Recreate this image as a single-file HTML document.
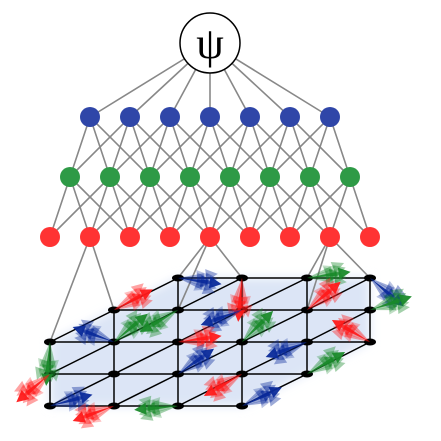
<!DOCTYPE html>
<html><head><meta charset="utf-8"><style>
html,body{margin:0;padding:0;background:#fff;width:441px;height:441px;overflow:hidden}
svg{display:block}
</style></head><body>
<svg id="fig" width="441" height="441" viewBox="0 0 441 441" xmlns="http://www.w3.org/2000/svg">
<defs>
<filter id="blur" x="-10%" y="-10%" width="120%" height="120%"><feGaussianBlur stdDeviation="5"/></filter>
</defs>
<polygon points="178,278 370,278 370,342 307,374 243,406 50,406 50,342 114,310" fill="#dce5f6" filter="url(#blur)"/>
<g id="edges"></g>
<g id="lattice"></g>
<g id="arrows"></g>
<g id="nodes"></g>
<circle cx="210" cy="43" r="30" fill="#fff" stroke="#000" stroke-width="1.5"/>
<text x="210" y="58" text-anchor="middle" font-family="Liberation Serif, serif" font-size="44">ψ</text>
</svg>
<script>
const blueX=[90,130,170,210,250,290,330];
const greenX=[70,110,150,190,230,270,310,350];
const redX=[50,90,130,170,210,250,290,330,370];
const colX=[50,114,178,242,307,370];
const rowY=[278,310,342,374,406];
const rowCols=[[2,5],[1,5],[0,5],[0,4],[0,3]];
const redLinks=[[1,0,2],[1,1,1],[4,2,0],[4,2,1],[4,3,0],[7,4,0],[7,4,1],[7,5,0]];
const arrowData=[[1,1,-28,'r'],[2,0,8,'b'],[3,0,95,'r'],[4,0,-8,'g'],[4,1,-40,'r'],[5,0,40,'b'],[5,1,-18,'g'],
[0,2,95,'g'],[1,2,-160,'b'],[2,1,150,'g'],[3,1,160,'b'],[2,2,-8,'r'],[3,2,-45,'g'],[5,2,-150,'r'],
[1,2,-40,'g'],[2,3,-35,'b'],[4,2,160,'b'],[4,3,-30,'g'],[0,3,140,'r'],[0,4,-15,'b'],[1,4,160,'r'],[2,4,175,'g'],[3,3,150,'r'],[3,4,-25,'b']];
const NS='http://www.w3.org/2000/svg';
function mk(t,a,p){const e=document.createElementNS(NS,t);for(const k in a)e.setAttribute(k,a[k]);p.appendChild(e);return e;}
const edges=document.getElementById('edges'),lat=document.getElementById('lattice'),nodes=document.getElementById('nodes'),arr=document.getElementById('arrows');
const BY=117,GY=177,RY=237;
const ec={stroke:'#888',"stroke-width":1.6};
blueX.forEach(x=>{const l=mk('line',Object.assign({x1:210,y1:43,x2:x,y2:BY},ec),edges);

});
blueX.forEach(bx=>greenX.forEach(gx=>{if(Math.abs(gx-bx)<=60){const l=mk('line',Object.assign({x1:bx,y1:BY,x2:gx,y2:GY},ec),edges);

}}));
greenX.forEach(gx=>redX.forEach(rx=>{if(Math.abs(gx-rx)<=60){const l=mk('line',Object.assign({x1:gx,y1:GY,x2:rx,y2:RY},ec),edges);

}}));
redLinks.forEach(([ri,c,r])=>{const l=mk('line',Object.assign({x1:redX[ri],y1:RY,x2:colX[c],y2:rowY[r]},ec),edges);

});
const has=(c,r)=>r>=0&&r<5&&c>=rowCols[r][0]&&c<=rowCols[r][1];
const lc={stroke:'#000',"stroke-width":1.5};
for(let r=0;r<5;r++)for(let c=rowCols[r][0];c<=rowCols[r][1];c++){
 const x=colX[c],y=rowY[r];
 [[c+1,r],[c,r+1],[c+1,r-1]].forEach(([c2,r2])=>{if(has(c2,r2)){const l=mk('line',Object.assign({x1:x,y1:y,x2:colX[c2],y2:rowY[r2]},lc),lat);
 
 }});
}
const col={r:'#ff1a1a',g:'#1a8a2a',b:'#0a2a9a'};
arrowData.forEach(([c,r,ang,k])=>{
 const x=colX[c],y=rowY[r];
 const g=mk('g',{},arr);
 
 
 [-14,-7,0,7,14].forEach((d,i)=>{
  const a=(ang+d)*Math.PI/180,L=i==2?44:40,x2=x+L*Math.cos(a),y2=y+L*Math.sin(a);
  const op=i==2?0.95:0.4;
  const pw=1.2,b0x=x2-14*Math.cos(a),b0y=y2-14*Math.sin(a);
  mk('polygon',{points:`${x},${y} ${b0x-2*Math.sin(a)},${b0y+2*Math.cos(a)} ${b0x+2*Math.sin(a)},${b0y-2*Math.cos(a)}`,fill:col[k],opacity:op},g);
  [0,9].forEach(off=>{
   const tx=x2-off*Math.cos(a),ty=y2-off*Math.sin(a);
   const h=12,w=6,bx=tx-h*Math.cos(a),by=ty-h*Math.sin(a);
   mk('polygon',{points:`${tx},${ty} ${bx-w*Math.sin(a)},${by+w*Math.cos(a)} ${bx+w*Math.sin(a)},${by-w*Math.cos(a)}`,fill:col[k],opacity:op*(off?0.7:1)},g);
  });
 });
});
for(let r=0;r<5;r++)for(let c=rowCols[r][0];c<=rowCols[r][1];c++){
 const e=mk('ellipse',{cx:colX[c],cy:rowY[r],rx:6,ry:3.5,fill:'#000'},lat);
 
 
}
function nodeRow(xs,y,fill,name){xs.forEach(x=>{const n=mk('circle',{cx:x,cy:y,r:10,fill:fill},nodes);

});}
nodeRow(blueX,BY,'#2f46a8','blue-layer-node');
nodeRow(greenX,GY,'#2e9a46','green-layer-node');
nodeRow(redX,RY,'#ff3333','red-layer-node');
</script>
</body></html>
